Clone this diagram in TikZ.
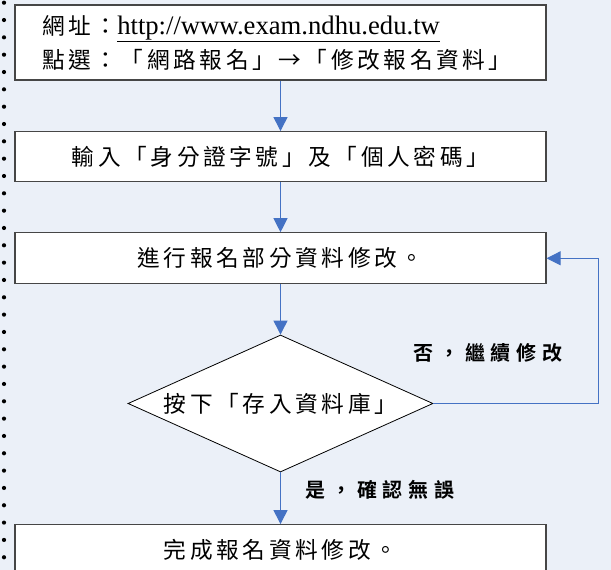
\documentclass[tikz,border=0pt]{standalone}
\usepackage{fontspec}
\setmainfont{Noto Sans CJK TC}[LetterSpace=16]
\newfontfamily\urlfont{Liberation Serif}
\newfontfamily\lblfont{Noto Sans CJK TC Bold}[LetterSpace=29]
\usepackage{xcolor}
\usepackage{tikz}
\usetikzlibrary{arrows.meta,shapes.geometric}
\definecolor{bgblue}{RGB}{235,240,248}
\definecolor{flowblue}{RGB}{68,114,196}
\definecolor{boxgray}{RGB}{70,70,70}

\begin{document}
\begin{tikzpicture}[x=0.75pt,y=-0.75pt,
	stepbox/.style={draw=boxgray,line width=0.9pt,fill=white,minimum width=398.25pt,inner sep=0pt,font=\fontsize{17}{25.5}\selectfont},
	choice/.style={shape=diamond,shape aspect=2.226,draw=black,line width=0.6pt,fill=white,minimum width=228.75pt,minimum height=102.75pt,inner sep=0pt,font=\fontsize{17}{20}\selectfont},
	flow/.style={draw=flowblue,line width=0.75pt,-{Triangle[length=10.5pt,width=10.5pt]},flowblue},
	remark/.style={font=\lblfont\fontsize{15}{18}\selectfont}]
	\fill[bgblue] (0,0) rectangle (611,570);
	\useasboundingbox (0,0) rectangle (611,570);
	%	dotted margin
	\foreach \i in {0,...,33}
		\fill (4,2.7+17.33*\i) circle (2.1);
			\node (box1) at(280.5,42.5)[stepbox,minimum height=56.25pt,text width=357.75pt,align=left]{網址：{\urlfont\fontsize{20}{25.5}\selectfont\underline{http://www.exam.ndhu.edu.tw}}\\點選：「網路報名」→「修改報名資料」};
			\node (box2) at(280.5,156.7)[stepbox,minimum height=37.5pt]{輸入「身分證字號」及「個人密碼」};
			\node (box3) at(280.5,258.3)[stepbox,minimum height=38.25pt]{進行報名部分資料修改。};
			\node (dia) at(280.5,403.5)[choice]{按下「存入資料庫」};
			\node (box4) at(280.5,550.2)[stepbox,minimum height=38.25pt]{完成報名資料修改。};
			\coordinate (back) at (598,403.5);
	\draw[flow] (box1.south) -- (box2.north);
	\draw[flow] (box2.south) -- (box3.north);
	\draw[flow] (box3.south) -- (dia.north);
	\draw[flow] (dia.south) -- (box4.north);
	\draw[flow] (dia.east) -- (back) |- (box3.east);
			\node (no) at(488,353)[remark]{否，繼續修改};
			\node (yes) at(380,490)[remark]{是，確認無誤};
	\end{tikzpicture}
\end{document}
